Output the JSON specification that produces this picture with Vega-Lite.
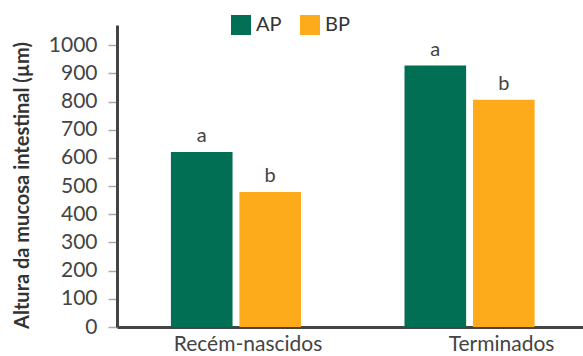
{
  "$schema": "https://vega.github.io/schema/vega-lite/v6.json",
  "width": 466,
  "height": 302,
  "autosize": {"type": "none"},
  "padding": {"left": 117, "top": 25, "right": 0, "bottom": 29},
  "background": "white",
  "config": {
    "font": "Lato",
    "view": {"stroke": null},
    "axis": {"labelFont": "Lato", "titleFont": "Lato", "labelColor": "#444444", "titleColor": "#333333", "grid": false}
  },
  "data": {
    "values": [
      {"fase": "Recém-nascidos", "grupo": "AP", "altura": 621, "letra": "a"},
      {"fase": "Recém-nascidos", "grupo": "BP", "altura": 479, "letra": "b"},
      {"fase": "Terminados", "grupo": "AP", "altura": 928, "letra": "a"},
      {"fase": "Terminados", "grupo": "BP", "altura": 807, "letra": "b"}
    ]
  },
  "encoding": {
    "x": {
      "field": "fase", "type": "nominal", "sort": null,
      "scale": {"paddingInner": 0.443, "paddingOuter": 0.219, "align": 0.527},
      "axis": {
        "title": null, "labelAngle": 0, "labelFontSize": 21, "labelPadding": 6, "ticks": false,
        "labelOffset": {"condition": {"test": "datum.value == 'Terminados'", "value": 32}, "value": 12},
        "domainColor": "#444444", "domainWidth": 3
      }
    },
    "xOffset": {"field": "grupo", "type": "nominal", "scale": {"paddingInner": 0.1}},
    "y": {
      "field": "altura", "type": "quantitative",
      "scale": {"domain": [0, 1072], "nice": false},
      "axis": {
        "title": "Altura da mucosa intestinal (µm)",
        "titleFontSize": 20, "titleFontWeight": "bold",
        "titleX": -95, "titleY": 160, "titleBaseline": "middle", "titleAngle": -90,
        "values": [0, 100, 200, 300, 400, 500, 600, 700, 800, 900, 1000],
        "format": "d",
        "labelFontSize": 21, "labelPadding": 11,
        "tickSize": 9, "tickColor": "#aaaaaa", "tickWidth": 1.5,
        "domainColor": "#444444", "domainWidth": 3
      }
    }
  },
  "layer": [
    {
      "mark": {"type": "bar"},
      "encoding": {
        "color": {
          "field": "grupo", "type": "nominal",
          "scale": {"domain": ["AP", "BP"], "range": ["#006F53", "#FDAB1B"]},
          "legend": {
            "title": null, "orient": "none", "direction": "horizontal",
            "legendX": 114, "legendY": -10,
            "symbolType": "square", "symbolSize": 400, "symbolStrokeWidth": 0,
            "labelFontSize": 20, "labelColor": "#333333", "labelOffset": 5, "columnPadding": 18
          }
        }
      }
    },
    {
      "mark": {"type": "text", "baseline": "bottom", "dy": -6, "fontSize": 20, "color": "#444444", "font": "Lato"},
      "encoding": {"text": {"field": "letra"}}
    }
  ]
}
